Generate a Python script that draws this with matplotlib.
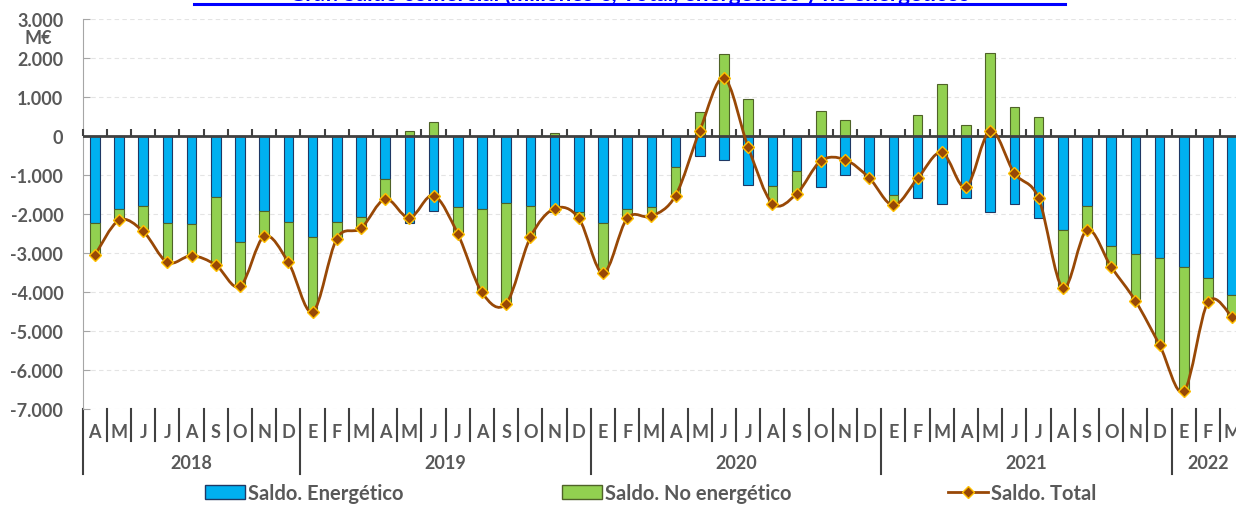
import numpy as np
import matplotlib.pyplot as plt
from matplotlib.path import Path
from matplotlib.patches import PathPatch, Patch
from matplotlib.lines import Line2D
import matplotlib.transforms as mtransforms

plt.rcParams['font.family'] = ['Lato', 'DejaVu Sans']
plt.rcParams['font.weight'] = 'bold'

meses = ['A', 'M', 'J', 'J', 'A', 'S', 'O', 'N', 'D',
         'E', 'F', 'M', 'A', 'M', 'J', 'J', 'A', 'S', 'O', 'N', 'D',
         'E', 'F', 'M', 'A', 'M', 'J', 'J', 'A', 'S', 'O', 'N', 'D',
         'E', 'F', 'M', 'A', 'M', 'J', 'J', 'A', 'S', 'O', 'N', 'D',
         'E', 'F', 'M']
anios = ['2018', '2019', '2020', '2021', '2022']
meses_por_anio = [9, 12, 12, 12, 3]

energetico = [-2231, -1864, -1805, -2231, -2257, -1563, -2720, -1933, -2206,
              -2601, -2206, -2087, -1100, -2231, -1923, -1830, -1864, -1710, -1805, -1949, -1958,
              -2242, -1864, -1830, -792, -509, -612, -1254, -1280, -905, -1316, -1008, -1067,
              -1522, -1599, -1743, -1599, -1958, -1743, -2113, -2411, -1805, -2815, -3028, -3123,
              -3360, -3656, -4070]
no_energetico = [-833, -300, -645, -1013, -815, -1748, -1141, -643, -1038,
                 -1911, -429, -283, -520, 115, 365, -684, -2151, -2588, -796, 64, -155,
                 -1275, -249, -232, -738, 612, 2087, 931, -455, -581, 642, 406, -13,
                 -257, 527, 1316, 278, 2121, 740, 494, -1484, -606, -545, -1201, -2237,
                 -3188, -606, -575]
total = [-3064, -2164, -2450, -3244, -3072, -3311, -3861, -2576, -3244,
         -4512, -2635, -2370, -1620, -2103, -1530, -2514, -4015, -4298, -2601, -1864, -2113,
         -3517, -2113, -2062, -1530, 134, 1478, -296, -1735, -1486, -645, -612, -1080,
         -1779, -1093, -424, -1316, 134, -959, -1599, -3895, -2411, -3360, -4229, -5360,
         -6548, -4262, -4645]

gris = '#595959'
azul = '#00B0F0'
verde = '#92D050'
marron = '#984806'

fig = plt.figure(figsize=(12.36, 5.06), dpi=100)
W, H = 1236, 506
ax = fig.add_axes([82.7 / W, 1 - 410 / H, (48 * 24.2) / W, (410 - 19.7) / H])

x = np.arange(len(meses))
e = np.array(energetico)
n = np.array(no_energetico)
t = np.array(total)

ax.bar(x, e, width=0.4, color=azul, edgecolor='#1F3864', linewidth=0.8, zorder=2)
ax.bar(x, n, bottom=np.where(n < 0, e, 0), width=0.4, color=verde,
       edgecolor='#4F6228', linewidth=0.8, zorder=2)

# linea suavizada tipo Excel (bezier entre puntos)
verts = [(x[0], t[0])]
codes = [Path.MOVETO]
for i in range(len(x) - 1):
    p0 = np.array([x[max(i - 1, 0)], t[max(i - 1, 0)]], float)
    p1 = np.array([x[i], t[i]], float)
    p2 = np.array([x[i + 1], t[i + 1]], float)
    p3 = np.array([x[min(i + 2, len(x) - 1)], t[min(i + 2, len(x) - 1)]], float)
    c1 = p1 + (p2 - p0) / 6
    c2 = p2 - (p3 - p1) / 6
    verts += [tuple(c1), tuple(c2), tuple(p2)]
    codes += [Path.CURVE4] * 3
ax.add_patch(PathPatch(Path(verts, codes), fill=False, edgecolor=marron, lw=2, zorder=4))
ax.plot(x, t, ls='', marker='D', ms=6, mfc=marron, mec='#FFC000', mew=1, zorder=5)

ax.axhline(0, color='#404040', lw=2, zorder=3)
ax.plot(np.arange(-0.5, 48, 1), np.zeros(49), ls='', marker=2, ms=5, mew=1.5,
        color='#404040', zorder=3, clip_on=False)

ax.set_xlim(-0.5, 47.5)
ax.set_ylim(-7000, 3000)
ax.set_yticks(range(-7000, 3001, 1000))
ax.set_yticklabels([f'{v:,}'.replace(',', '.') for v in range(-7000, 3001, 1000)])
ax.tick_params(axis='y', direction='in', length=5, color='#a6a6a6', pad=14,
               labelsize=13, labelcolor=gris)
ax.set_xticks([])
ax.yaxis.grid(True, color='#e4e4e4', lw=0.8, ls=(0, (4, 3)))
ax.set_axisbelow(True)
for s in ['top', 'right', 'bottom']:
    ax.spines[s].set_visible(False)
ax.spines['left'].set_color('#a6a6a6')

# etiquetas de categoria
tr = mtransforms.blended_transform_factory(ax.transData, ax.transAxes)
for i, m in enumerate(meses):
    ax.text(i, -0.057, m, transform=tr, ha='center', va='center', fontsize=13,
            color=gris, clip_on=False)
inicio = np.cumsum([0] + meses_por_anio)
for b in np.arange(-0.5, 48, 1):
    largo = -0.1665 if (b + 0.5) in inicio else -0.082
    ax.plot([b, b], [0, largo], transform=tr, color='#404040', lw=1.5, clip_on=False)
for k, a in enumerate(anios):
    centro = (inicio[k] + inicio[k + 1] - 1) / 2
    ax.text(centro, -0.137, a, transform=tr, ha='center', va='center', fontsize=13,
            color=gris, clip_on=False)

fig.text(38 / W, 1 - 39 / H, 'M€', ha='center', va='center', fontsize=13, color=gris)

fig.text(629.5 / W, 1 - 1 / H, 'Gráf. Saldo comercial (millones €, Total, energéticos y no energéticos',
         ha='center', va='baseline', fontsize=16, color='#0000FF')
fig.add_artist(Line2D([194 / W, 1065 / W], [1 - 4.5 / H, 1 - 4.5 / H], color='#0000FF', lw=2.2))

entradas = [
    (205, Patch(facecolor=azul, edgecolor='#1F3864'), 'Saldo. Energético'),
    (562, Patch(facecolor=verde, edgecolor='#4F6228'), 'Saldo. No energético'),
    (948, Line2D([], [], color=marron, lw=2, marker='D', ms=6, mfc=marron, mec='#FFC000'), 'Saldo. Total'),
]
for xpos, h, lab in entradas:
    leg = fig.legend([h], [lab], loc='center left', bbox_to_anchor=(xpos / W, 1 - 494 / H),
                     frameon=False, fontsize=14.5, handlelength=2.0, handleheight=0.65,
                     handletextpad=0.15, borderpad=0, borderaxespad=0)
    for txt in leg.get_texts():
        txt.set_color(gris)

fig.savefig('out.png', dpi=100)
